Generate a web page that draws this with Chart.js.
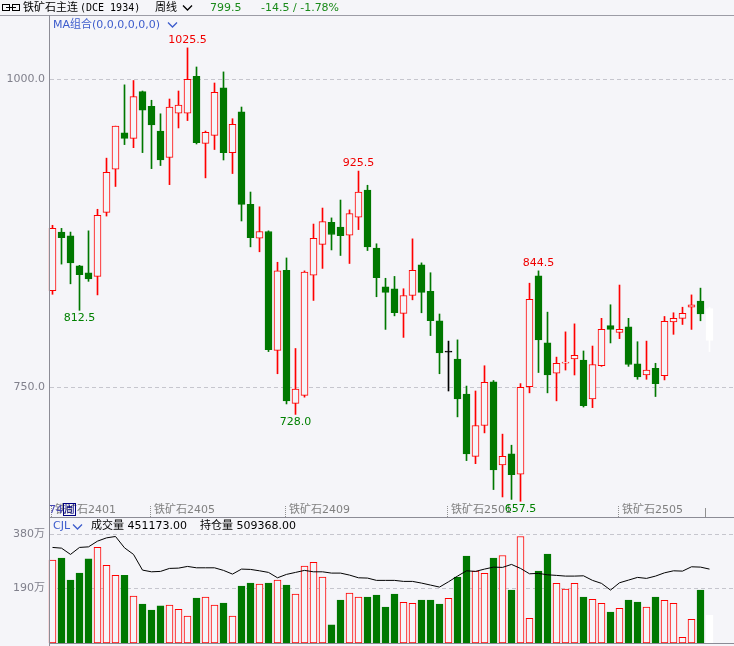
<!DOCTYPE html>
<html>
<head>
<meta charset="utf-8">
<script src="https://cdn.jsdelivr.net/npm/chart.js@4/dist/chart.umd.min.js"></script>
<style>
html,body{margin:0;padding:0;background:#f5f5f9;}
#wrap{position:relative;width:734px;height:646px;overflow:hidden;background:#f5f5f9;
  font-family:"DejaVu Sans","Noto Sans CJK SC",sans-serif;font-size:11px;color:#000;}
.t{position:absolute;white-space:nowrap;line-height:13px;}
.ln{position:absolute;background:#8c8c96;}
canvas{position:absolute;left:0;}
</style>
</head>
<body>
<div id="wrap">
  <canvas id="main" width="734" height="517" style="top:0;width:734px;height:517px"></canvas>
  <canvas id="vol" width="734" height="129" style="top:517px;width:734px;height:129px"></canvas>

  <!-- frame lines -->
  <div class="ln" style="left:0;top:15px;width:734px;height:1px;background:#9c9ca6"></div>
  <div class="ln" style="left:49px;top:15px;width:1px;height:631px"></div>
  <div class="ln" style="left:49px;top:517px;width:685px;height:1px"></div>
  <div class="ln" style="left:49px;top:643px;width:685px;height:1px"></div>

  <!-- title bar -->
  <svg style="position:absolute;left:2px;top:3px" width="19" height="10">
    <rect x="0.5" y="1.5" width="7" height="6" fill="none" stroke="#000" stroke-width="1"/>
    <rect x="10.5" y="1.5" width="7" height="6" fill="none" stroke="#000" stroke-width="1"/>
    <line x1="4" y1="4.5" x2="14" y2="4.5" stroke="#000" stroke-width="1"/>
  </svg>
  <div class="t" style="left:23px;top:1px">铁矿石主连</div>
  <div class="t" style="left:80px;top:1px;font-family:'DejaVu Sans Mono',monospace;font-size:10px">(DCE 1934)</div>
  <div class="t" style="left:155px;top:1px">周线</div>
  <svg style="position:absolute;left:182px;top:4px" width="12" height="8">
    <polyline points="1,1.5 5.5,6 10,1.5" fill="none" stroke="#000" stroke-width="1.3"/>
  </svg>
  <div class="t" id="lastPx" style="left:210px;top:1px;color:#1a8a1a"></div>
  <div class="t" id="lastChg" style="left:261px;top:1px;color:#1a8a1a"></div>

  <div class="t" style="left:53px;top:18px;color:#3d5ccc">MA组合(0,0,0,0,0,0)</div>
  <svg style="position:absolute;left:167px;top:21px" width="12" height="8">
    <polyline points="1,1.5 5.5,6 10,1.5" fill="none" stroke="#3d5ccc" stroke-width="1.3"/>
  </svg>

  <!-- bar count tag -->
  <div class="t" style="left:49px;top:503px;color:#4646b4">74<span style="border:1px solid #000080;color:#000080;padding:0 0;line-height:11px;display:inline-block">周</span></div>

  <!-- volume panel header -->
  <div class="t" style="left:53px;top:519px;color:#3d5ccc">CJL</div>
  <svg style="position:absolute;left:72px;top:523px" width="12" height="8">
    <polyline points="1,1.5 5.5,6 10,1.5" fill="none" stroke="#3d5ccc" stroke-width="1.3"/>
  </svg>
  <div class="t" style="left:91px;top:519px">成交量 451173.00</div>
  <div class="t" style="left:200px;top:519px">持仓量 509368.00</div>
</div>

<script>
// ---- weekly bars: iron ore continuous contract ----
const opens  = [828.5,876,873,848.5,843,840,892,927,956.5,952,990,978,958,936.5,972.5,972.5,1002.5,948,954.5,993,
                940.5,973.5,898.5,871,876.5,780,845,737,743.5,841,866,884,880,873.5,888,910,863,831.5,830,810,
                824.5,849.5,828,804,778.5,773,744.5,694,719,754.5,687,696,679.5,750.5,840.5,786,761.5,769.5,773,772,
                740.5,767.5,800,794.5,799,769,760,765.5,759.5,803,806,815,820,814];
const highs  = [881.5,879,876,849,877,894.5,936,962,995.5,999,990.5,983,972,984,990.5,1025.5,1010,958,997,1006,
                968,977.5,908.5,896.5,877,851.5,855,781.5,844.5,882.5,895.5,887.5,902,894,925.5,914,866.5,838.5,840,830,
                870.5,851,843,809.5,787.5,788.5,751,747,767.5,755.5,712,703,753,834.5,844.5,811,774.5,795,801.5,779.5,
                783.5,806,817,833,806,787,787.5,769.5,807.5,810.5,815,825,830.5,815];
const lows   = [825.5,850,834,812.5,836,825,889,913,947,944.5,940.5,927.5,930,914.5,960.5,966.5,947.5,920,943,934.5,
                923.5,885,864,860,779,761,736.5,728,742,820.5,846.5,861.5,857,850.5,878,861,823.5,797,808,790.5,
                821,810.5,792,761,747,726,690.5,688,713,667,661,659,657.5,745.5,762,745.5,739,764,760,734,
                733.5,767,786,789.5,767,756.5,756.5,742.5,756,793,801,797,804,779];
const closes = [879,871.5,851,841.5,838,889.5,924.5,962,952,986,975,963,934.5,977.5,979,1000,948.5,957,989.5,940.5,
                963.5,898.5,871.5,876.5,780.5,844.5,739,748.5,843.5,871,884.5,874,873,891,908.5,864,839,827,810.5,824.5,
                845,827,804,778,778.5,740.5,696,719,754,683,694,679,750,821.5,788.5,760,769.5,770.5,776,735,
                768.5,797,797,797,768.5,758.5,764,753,803.5,806,810,817,809.5,788];
// volume (万手) and open interest line (same 万 scale)
const volume = [288,295,218.5,243,292,332,269.5,235,235,163,135,114.5,129.5,132,117,93.7,156,159.5,132,139,
                93.7,198,208,204.6,208,218.5,201,170,267,280,229,63.5,149,173,159.5,159.5,166.5,125,170,141,
                137.7,149,149,135,155,229,302,250,242,295,304,184,370,85.6,250,309,207,187,207,159.5,
                151.6,137.7,107.5,120,149,142,125,159.5,148,137.7,19.7,82,184,97];
const openInterest = [332,329.5,307.7,332,334,353.8,365.2,370,330.6,307.7,253.2,247.3,248.7,259.1,260.1,266,261.2,261.2,261.2,252.2,
                239.3,256.7,255.6,250.8,245.2,226.5,238.3,245.2,252.2,247.3,247.3,242.8,242.8,235.9,226.5,225.5,217.5,217.5,217.5,214,
                214,208.1,201.2,194.2,212.6,232.4,250.8,248.7,256.7,263.6,262.6,273,259.1,240.4,241.8,236.9,234.8,232.4,232.4,233.4,
                217.5,207.1,183.8,209.2,218.5,227.9,224.4,232.4,243.8,250.8,249.7,264.7,263.6,256.7];
// contract roll labels along the time axis
const contractNames = ['铁矿石2401','铁矿石2405','铁矿石2409','铁矿石2501','铁矿石2505'];
const contractStart = [0, 11, 26, 44, 63];
// annotated extremes (bar indexes)
const markedHighs = [15, 34, 54];
const markedLows  = [3, 27, 52];
// axis ticks
const priceTicks = [750, 1000];
const volumeTicks = [190, 380];
// quote header
const lastPrice = 799.5, lastChange = -14.5, lastPct = -1.78;

const weeks = opens.map((_, i) => 'W' + (i + 1));
const N = opens.length;

const BG = '#f5f5f9', UP = '#ff0000', DOWN = '#007800', FLAT = '#000000', LIVE = '#ffffff';
const barColor = opens.map((o, i) => i === N - 1 ? LIVE : (closes[i] > o ? UP : closes[i] < o ? DOWN : FLAT));
const bodyFill = barColor.map(c => c === UP ? BG : c);
const volColor = opens.map((o, i) => i === N - 1 ? LIVE : (closes[i] >= o ? UP : DOWN));
const volFill = volColor.map(c => c === UP ? BG : c);

document.getElementById('lastPx').textContent = lastPrice.toFixed(1);
document.getElementById('lastChg').textContent = lastChange.toFixed(1) + ' / ' + lastPct.toFixed(2) + '%';

const FONT = '11px "DejaVu Sans", "Noto Sans CJK SC", sans-serif';

function dashedGrid(ctx, y, values) {
  ctx.save();
  ctx.strokeStyle = '#c6c6ce';
  ctx.lineWidth = 1;
  ctx.setLineDash([4, 3]);
  values.forEach(v => {
    const py = Math.round(y.getPixelForValue(v)) + 0.5;
    ctx.beginPath(); ctx.moveTo(50, py); ctx.lineTo(734, py); ctx.stroke();
  });
  ctx.restore();
}

const mainDeco = {
  id: 'mainDeco',
  beforeDatasetsDraw(chart) {
    dashedGrid(chart.ctx, chart.scales.y, priceTicks);
  },
  afterDatasetsDraw(chart) {
    const ctx = chart.ctx, xs = chart.scales.x, ys = chart.scales.y;
    ctx.save();
    ctx.font = FONT;
    // price axis labels
    ctx.fillStyle = '#80808c'; ctx.textAlign = 'right'; ctx.textBaseline = 'middle';
    priceTicks.forEach(v => ctx.fillText(v.toFixed(1), 45, Math.round(ys.getPixelForValue(v)) + 0.5));
    // contract labels
    ctx.textAlign = 'left';
    contractNames.forEach((name, k) => {
      const px = xs.getPixelForValue(contractStart[k]);
      ctx.fillStyle = '#808080';
      ctx.fillText(name, px + 2.5, 510);
      ctx.fillStyle = '#909090';
      for (let yy = 506; yy < 517; yy += 2) ctx.fillRect(Math.floor(px) - 1, yy, 1, 1);
    });
    // marker on the current bar slot
    const lastX = xs.getPixelForValue(N - 1) - 4.5;
    ctx.fillStyle = '#909090';
    ctx.fillRect(Math.floor(lastX), 508, 1, 9);
    // high / low annotations
    ctx.textAlign = 'center';
    ctx.fillStyle = '#f00000';
    markedHighs.forEach(i => ctx.fillText(highs[i].toFixed(1), xs.getPixelForValue(i), ys.getPixelForValue(highs[i]) - 7.5));
    ctx.fillStyle = '#008000';
    markedLows.forEach(i => ctx.fillText(lows[i].toFixed(1), xs.getPixelForValue(i), ys.getPixelForValue(lows[i]) + 7.5));
    ctx.restore();
  }
};

new Chart(document.getElementById('main'), {
  type: 'bar',
  data: {
    labels: weeks,
    datasets: [
      { // wicks
        data: lows.map((l, i) => [l, highs[i]]),
        backgroundColor: barColor, borderWidth: 0,
        barThickness: 1, grouped: false, order: 2
      },
      { // bodies
        data: opens.map((o, i) => [o, closes[i]]),
        backgroundColor: bodyFill, borderColor: barColor, borderWidth: 1,
        borderSkipped: false, barThickness: 7, minBarLength: 1, grouped: false, order: 1
      }
    ]
  },
  options: {
    responsive: false, animation: false, devicePixelRatio: 1,
    layout: { padding: { left: 48, right: 20, top: 16, bottom: 0 } },
    plugins: { legend: { display: false }, tooltip: { enabled: false } },
    scales: {
      x: { type: 'category', offset: true, display: false },
      y: { type: 'linear', min: 644.73, max: 1051.38, display: false }
    }
  },
  plugins: [mainDeco]
});

const volDeco = {
  id: 'volDeco',
  beforeDatasetsDraw(chart) {
    dashedGrid(chart.ctx, chart.scales.y, volumeTicks);
  },
  afterDatasetsDraw(chart) {
    const ctx = chart.ctx, ys = chart.scales.y;
    ctx.save();
    ctx.font = FONT;
    ctx.fillStyle = '#80808c'; ctx.textAlign = 'right'; ctx.textBaseline = 'middle';
    volumeTicks.forEach(v => ctx.fillText(v + '万', 45, Math.round(ys.getPixelForValue(v)) + 0.5));
    ctx.restore();
  }
};

new Chart(document.getElementById('vol'), {
  type: 'bar',
  data: {
    labels: weeks,
    datasets: [
      {
        type: 'line', data: openInterest, yAxisID: 'yOI',
        borderColor: '#000000', borderWidth: 1, pointRadius: 0, tension: 0, order: 0
      },
      {
        data: volume,
        backgroundColor: volFill, borderColor: volColor, borderWidth: 1,
        borderSkipped: false, barThickness: 7, grouped: false, order: 1
      }
    ]
  },
  options: {
    responsive: false, animation: false, devicePixelRatio: 1,
    layout: { padding: { left: 48, right: 20, top: 1, bottom: 3 } },
    plugins: { legend: { display: false }, tooltip: { enabled: false } },
    scales: {
      x: { type: 'category', offset: true, display: false },
      y: { type: 'linear', min: 0, max: 434.2, display: false },
      yOI: { type: 'linear', min: 0, max: 434.2, display: false }
    }
  },
  plugins: [volDeco]
});
</script>
</body>
</html>
